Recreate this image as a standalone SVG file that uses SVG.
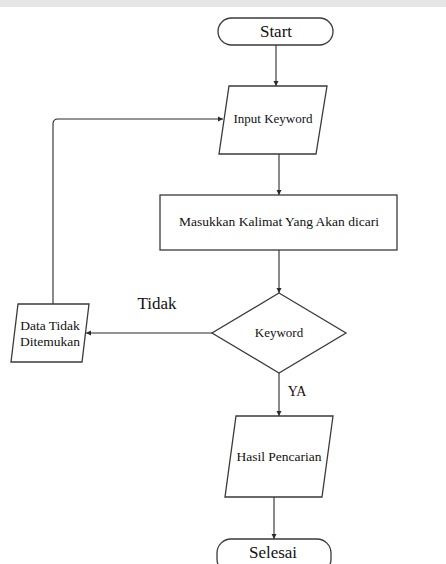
<svg xmlns="http://www.w3.org/2000/svg" width="446" height="564" viewBox="0 0 446 564">
<style>
.shape{fill:#fff;stroke:#3a3a3a;stroke-width:1.3}
.conn{fill:none;stroke:#2a2a2a;stroke-width:1.1}
text{font-family:"Liberation Serif","Times New Roman",serif;fill:#111;text-anchor:middle}
.s13{font-size:13px}
</style>
<defs>
<marker id="arr" markerWidth="6" markerHeight="6" refX="5" refY="3" orient="auto" markerUnits="userSpaceOnUse">
<path d="M0,0.5 L5,3 L0,5.5 Z" fill="#2a2a2a"/>
</marker>
</defs>
<rect x="0" y="0" width="446" height="564" fill="#fff"/>
<rect x="0" y="0" width="446" height="7" fill="#e6e6e6"/>
<g id="connectors">
<line class="conn" x1="276" y1="45" x2="276" y2="86" marker-end="url(#arr)"/>
<line class="conn" x1="279" y1="154" x2="279" y2="195" marker-end="url(#arr)"/>
<line class="conn" x1="279" y1="250" x2="279" y2="293" marker-end="url(#arr)"/>
<line class="conn" x1="212" y1="333" x2="86" y2="333" marker-end="url(#arr)"/>
<path class="conn" d="M53,304 L53,124 Q53,119 58,119 L223,119" marker-end="url(#arr)"/>
<line class="conn" x1="279" y1="373" x2="279" y2="416" marker-end="url(#arr)"/>
<line class="conn" x1="274" y1="497" x2="274" y2="539" marker-end="url(#arr)"/>
<text x="157" y="309" font-size="17">Tidak</text>
<text x="297" y="396" font-size="14">YA</text>
</g>
<g id="start">
<rect class="shape" x="218" y="18" width="115" height="27" rx="13.5" ry="13.5"/>
<text x="276" y="37" font-size="17">Start</text>
</g>
<g id="input-keyword">
<polygon class="shape" points="229,86 327,86 316,154 219,154"/>
<text class="s13" x="273" y="123">Input Keyword</text>
</g>
<g id="masukkan">
<rect class="shape" x="160" y="195" width="237" height="55"/>
<text x="279" y="226" font-size="13.5">Masukkan Kalimat Yang Akan dicari</text>
</g>
<g id="keyword">
<polygon class="shape" points="279,293 346,333 279,373 212,333"/>
<text class="s13" x="279" y="337">Keyword</text>
</g>
<g id="data-tidak">
<polygon class="shape" points="18,304 89,304 82,362 11,362"/>
<text x="50" y="330" font-size="13.5">Data Tidak</text>
<text x="50" y="346" font-size="13.5">Ditemukan</text>
</g>
<g id="hasil">
<polygon class="shape" points="236,416 333,416 322,497 225,497"/>
<text x="279" y="461" font-size="13.5">Hasil Pencarian</text>
</g>
<g id="selesai">
<rect class="shape" x="217" y="539" width="114" height="34" rx="14" ry="14"/>
<text x="273" y="558" font-size="17">Selesai</text>
</g>
</svg>
